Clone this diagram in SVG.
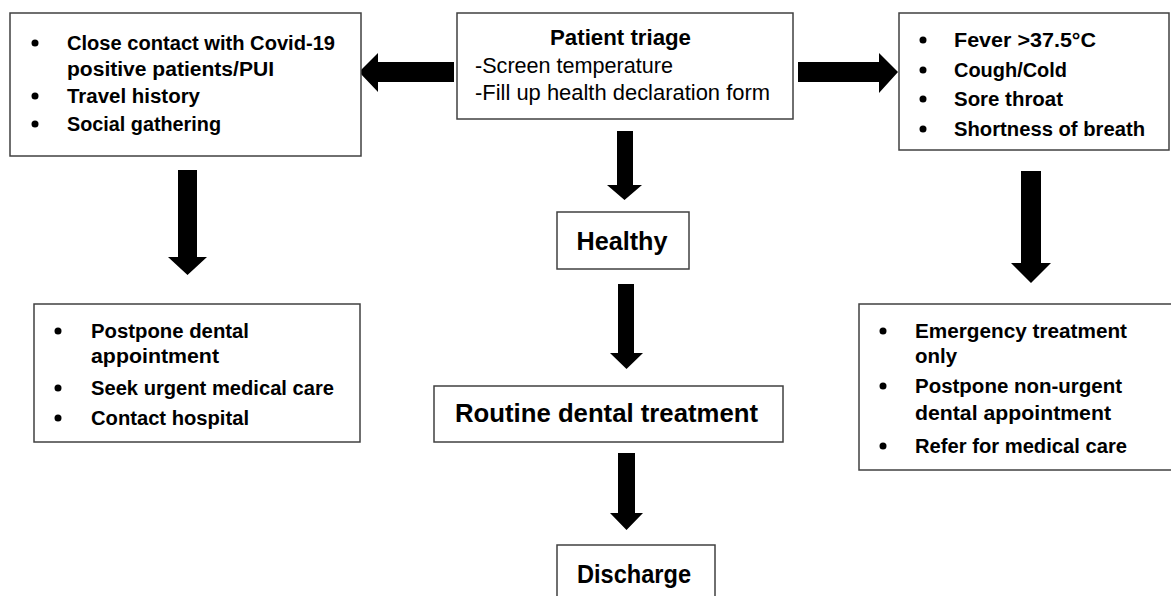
<svg xmlns="http://www.w3.org/2000/svg" width="1171" height="596" viewBox="0 0 1171 596">
<style>
.box{fill:#fff;stroke:#404040;stroke-width:1.5}
.b{font-family:"Liberation Sans",Arial,sans-serif;font-weight:bold;font-size:20px;fill:#000}
.r{font-family:"Liberation Sans",Arial,sans-serif;font-size:22px;fill:#000}
.big{font-family:"Liberation Sans",Arial,sans-serif;font-weight:bold;font-size:25px;fill:#000}
.dot{fill:#000}
.arrow{fill:#000}
</style>
<rect width="1171" height="596" fill="#fff"/>
<g id="connectors">
<polygon class="arrow" points="454,62 378,62 378,53 359,72 378,92 378,82 454,82"/>
<polygon class="arrow" points="798,62 879,62 879,53 898,72 879,93 879,82 798,82"/>
<polygon class="arrow" points="178,170 197,170 197,257 207,257 187.5,275 168,257 178,257"/>
<polygon class="arrow" points="1021,171 1041,171 1041,263 1051,263 1031,283 1011,263 1021,263"/>
<polygon class="arrow" points="617,131 633,131 633,185 642,185 624.5,200 607,185 617,185"/>
<polygon class="arrow" points="618,284 634,284 634,353 643,353 626.5,369 610,353 618,353"/>
<polygon class="arrow" points="618,453 635,453 635,513 643,513 626.5,530 610,513 618,513"/>
</g>
<g id="node-contact">
<rect class="box" x="10" y="13" width="351" height="143"/>
<circle class="dot" cx="35" cy="43" r="3.5"/>
<circle class="dot" cx="35" cy="96" r="3.5"/>
<circle class="dot" cx="35" cy="124" r="3.5"/>
<text class="b" x="67" y="50" textLength="268" lengthAdjust="spacingAndGlyphs">Close contact with Covid-19</text>
<text class="b" x="67" y="76" textLength="207" lengthAdjust="spacingAndGlyphs">positive patients/PUI</text>
<text class="b" x="67" y="103" textLength="133" lengthAdjust="spacingAndGlyphs">Travel history</text>
<text class="b" x="67" y="131" textLength="154" lengthAdjust="spacingAndGlyphs">Social gathering</text>
</g>
<g id="node-triage">
<rect class="box" x="457" y="13" width="336" height="106"/>
<text class="b" x="620.5" y="45" text-anchor="middle" style="font-size:22px" textLength="141" lengthAdjust="spacingAndGlyphs">Patient triage</text>
<text class="r" x="475" y="73" textLength="198" lengthAdjust="spacingAndGlyphs">-Screen temperature</text>
<text class="r" x="475" y="100" textLength="295" lengthAdjust="spacingAndGlyphs">-Fill up health declaration form</text>
</g>
<g id="node-symptoms">
<rect class="box" x="899" y="13" width="270" height="137"/>
<circle class="dot" cx="923" cy="40" r="3.5"/>
<circle class="dot" cx="923" cy="70" r="3.5"/>
<circle class="dot" cx="923" cy="99" r="3.5"/>
<circle class="dot" cx="923" cy="129" r="3.5"/>
<text class="b" x="954" y="47" textLength="142" lengthAdjust="spacingAndGlyphs">Fever &gt;37.5°C</text>
<text class="b" x="954" y="77" textLength="113" lengthAdjust="spacingAndGlyphs">Cough/Cold</text>
<text class="b" x="954" y="106" textLength="109" lengthAdjust="spacingAndGlyphs">Sore throat</text>
<text class="b" x="954" y="136" textLength="191" lengthAdjust="spacingAndGlyphs">Shortness of breath</text>
</g>
<g id="node-postpone">
<rect class="box" x="34" y="304" width="326" height="138"/>
<circle class="dot" cx="58" cy="331" r="3.5"/>
<circle class="dot" cx="58" cy="388" r="3.5"/>
<circle class="dot" cx="58" cy="418" r="3.5"/>
<text class="b" x="91" y="338" textLength="158" lengthAdjust="spacingAndGlyphs">Postpone dental</text>
<text class="b" x="91" y="363" textLength="128" lengthAdjust="spacingAndGlyphs">appointment</text>
<text class="b" x="91" y="395" textLength="243" lengthAdjust="spacingAndGlyphs">Seek urgent medical care</text>
<text class="b" x="91" y="425" textLength="158" lengthAdjust="spacingAndGlyphs">Contact hospital</text>
</g>
<g id="node-healthy">
<rect class="box" x="557" y="212" width="132" height="57"/>
<text class="big" x="622" y="250" text-anchor="middle" textLength="91" lengthAdjust="spacingAndGlyphs">Healthy</text>
</g>
<g id="node-routine">
<rect class="box" x="434" y="386" width="349" height="56"/>
<text class="big" x="455" y="422" textLength="303" lengthAdjust="spacingAndGlyphs">Routine dental treatment</text>
</g>
<g id="node-discharge">
<rect class="box" x="557" y="545" width="158" height="60"/>
<text class="big" x="577" y="583" textLength="114" lengthAdjust="spacingAndGlyphs">Discharge</text>
</g>
<g id="node-emergency">
<rect class="box" x="859" y="304" width="320" height="166"/>
<circle class="dot" cx="883" cy="331" r="3.5"/>
<circle class="dot" cx="883" cy="386" r="3.5"/>
<circle class="dot" cx="883" cy="446" r="3.5"/>
<text class="b" x="915" y="338" textLength="212" lengthAdjust="spacingAndGlyphs">Emergency treatment</text>
<text class="b" x="915" y="363" textLength="42" lengthAdjust="spacingAndGlyphs">only</text>
<text class="b" x="915" y="393" textLength="207" lengthAdjust="spacingAndGlyphs">Postpone non-urgent</text>
<text class="b" x="915" y="420" textLength="196" lengthAdjust="spacingAndGlyphs">dental appointment</text>
<text class="b" x="915" y="453" textLength="212" lengthAdjust="spacingAndGlyphs">Refer for medical care</text>
</g>
</svg>
